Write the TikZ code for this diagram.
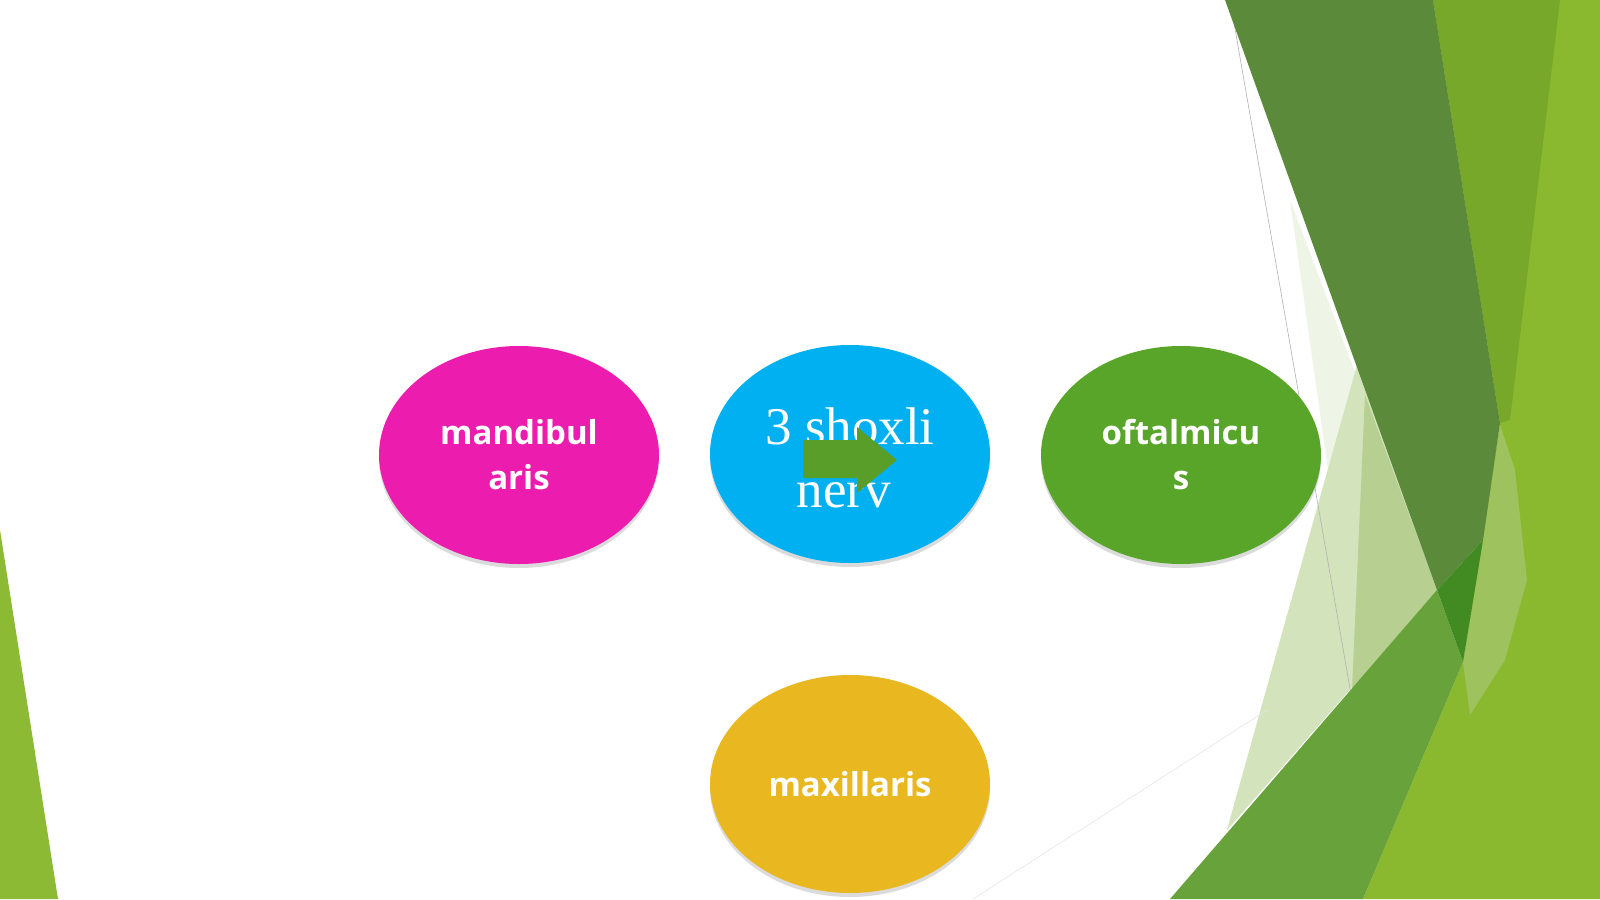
\documentclass[tikz,border=0pt]{standalone}
\usepackage{fontspec}
\setmainfont{Liberation Serif}
\newfontfamily\osans{Open Sans}
\usepackage{tikz}
\usetikzlibrary{shapes.geometric}
\usetikzlibrary{shadows}

\definecolor{leafgreen}{HTML}{8DBA34}
\definecolor{facetbase}{HTML}{8AB82E}
\definecolor{facetmid}{HTML}{78A82A}
\definecolor{facetglow}{HTML}{9DC25E}
\definecolor{facetdark}{HTML}{5B8A3B}
\definecolor{facetdeep}{HTML}{428A22}
\definecolor{facetband}{HTML}{67A23A}
\definecolor{facetmist}{HTML}{EEF4E6}
\definecolor{facetpale}{HTML}{D3E3BC}
\definecolor{facetsage}{HTML}{B7CF91}
\definecolor{pinkbranch}{HTML}{EC1CAE}
\definecolor{bluebranch}{HTML}{00B0F0}
\definecolor{greenbranch}{HTML}{58A529}
\definecolor{yellowbranch}{HTML}{E9B820}
\definecolor{arrowgreen}{HTML}{5A9E2A}

\begin{document}
\begin{tikzpicture}[x=1pt,y=-1pt,
		branch/.style={ellipse,minimum width=280pt,minimum height=218pt,inner sep=0pt,
			text=white,align=center,font=\osans\bfseries\fontsize{33}{45}\selectfont,
			drop shadow={shadow xshift=0pt,shadow yshift=-4pt,opacity=0.28}}]

				\fill[white] (0,0) rectangle (1600,899);
				\useasboundingbox (0,0) rectangle (1600,899);

				\fill[leafgreen] (0,530) -- (58,899) -- (0,899) -- cycle;

				\fill[facetmist] (1290,200) -- (1437,590) -- (1227,830) -- (1328,470) -- cycle;
				\fill[facetpale] (1357,365) -- (1437,590) -- (1227,830) -- cycle;
				\fill[facetsage] (1365,395) -- (1437,590) -- (1352,690) -- cycle;
				\draw[gray!60,line width=0.6pt] (1230,0) -- (1352,700);
				\draw[black!10,line width=0.6pt] (973,899) -- (1267,710);

				\fill[facetbase] (1433,0) -- (1600,0) -- (1600,899) -- (1363,899) -- (1463,662) -- (1482,542) -- (1500,423) -- cycle;
				\fill[facetmid] (1433,0) -- (1560,0) -- (1510,420) -- (1500,423) -- cycle;
				\fill[facetglow] (1500,425) -- (1515,470) -- (1527,580) -- (1505,660) -- (1470,715) -- (1463,663) -- (1483,540) -- cycle;

				\fill[facetdark] (1225,0) -- (1433,0) -- (1500,423) -- (1483,540) -- (1437,590) -- cycle;
				\fill[facetband] (1437,590) -- (1463,662) -- (1363,899) -- (1170,899) -- cycle;
				\fill[facetdeep] (1437,590) -- (1483,540) -- (1463,662) -- cycle;

				\node[branch,fill=pinkbranch] (mandib) at (519,455) {mandibul\\aris};
				\node[branch,fill=bluebranch,font=\rmfamily\mdseries\fontsize{53}{63}\selectfont] (trigem) at (850,454) {\rule{0pt}{44pt}3 shoxli\\nerv\hspace*{12pt}};
				\node[branch,fill=greenbranch] (oftal) at (1181,455) {oftalmicu\\s};
				\node[branch,fill=yellowbranch] (maxil) at (850,784) {maxillaris};

				\fill[arrowgreen] (803,440) -- (857,440) -- (857,427) -- (897,460) -- (857,493) -- (857,478) -- (803,478) -- cycle;

			\end{tikzpicture}
\end{document}
